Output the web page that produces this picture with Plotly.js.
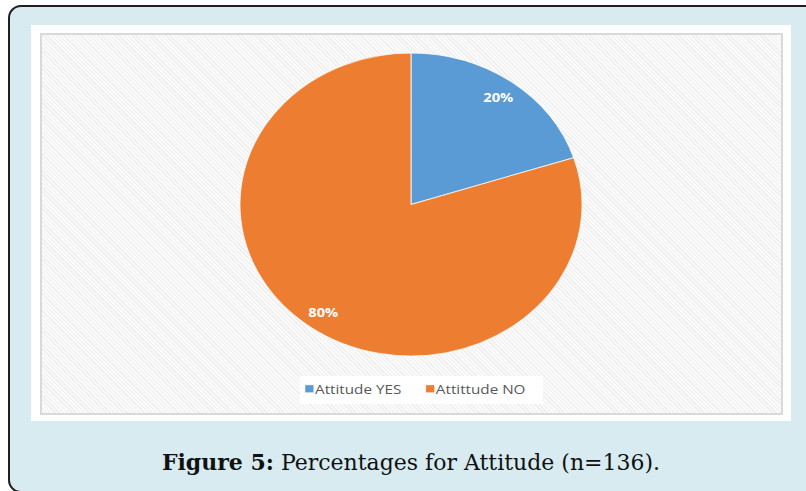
<!DOCTYPE html>
<html>
<head>
<meta charset="utf-8">
<script src="https://cdn.plot.ly/plotly-3.0.1.min.js"></script>
<style>
  html, body { margin: 0; padding: 0; width: 806px; height: 491px; overflow: hidden; background: #ffffff; }
  #frame { position: absolute; left: 8px; top: 5px; width: 830px; height: 484px;
           border: 2px solid #1f1f1f; border-radius: 13px; background: #d7ebf0; }
  #panel { position: absolute; left: 31px; top: 25px; width: 760px; height: 396px; background: #ffffff; }
  #area  { position: absolute; left: 40px; top: 33px; width: 739px; height: 378px;
           border: 2px solid #d9d9d9;
           background: repeating-linear-gradient(45deg, #eeeeee 0 1px, #fafafa 1px 3px); }
  /* the chart is drawn a little wider than tall, as in the printed figure */
  #chart { position: absolute; left: 0; top: 0; width: 806px; height: 491px;
           transform-origin: 411px 0; transform: scaleX(1.129); }
  #caption { position: absolute; left: 8px; top: 449px; width: 806px; text-align: center;
             font-family: "DejaVu Serif", serif; font-size: 22px; color: #111111; }
  /* small legend swatches sitting right next to their text; compact entries not clipped */
  #chart .legendpoints path { transform: translate(35px, 0px) scale(0.65); }
  #chart .legend .scrollbox { clip-path: none !important; }
</style>
</head>
<body>
<div id="frame"></div>
<div id="panel"></div>
<div id="area"></div>
<div id="chart"></div>
<div id="caption"><b>Figure 5:</b> Percentages for Attitude (n=136).</div>
<script>
  // Share of respondents by attitude (percent)
  const labels = ['Attitude YES', 'Attittude NO'];
  const shares = [20, 80];
  const colors = ['#5b9bd5', '#ed7d31'];

  const W = 806, H = 491;
  const pieCx = 411, pieTop = 53, pieBottom = 356;
  const pieR = (pieBottom - pieTop) / 2;
  const pieCy = (pieTop + pieBottom) / 2;
  const labelRadius = 0.875;   // percentage labels sit near the rim

  const trace = {
    type: 'pie',
    labels: labels,
    values: shares,
    sort: false,
    direction: 'clockwise',
    rotation: 0,
    marker: { colors: colors, line: { color: 'rgba(255,255,255,0.7)', width: 1 } },
    textinfo: 'none',
    hoverinfo: 'label+percent',
    domain: { x: [(pieCx - pieR) / W, (pieCx + pieR) / W], y: [1 - pieBottom / H, 1 - pieTop / H] }
  };

  // one label per slice, placed along the slice's middle angle (clockwise from 12 o'clock)
  const total = shares.reduce((a, b) => a + b, 0);
  let cum = 0;
  const annotations = shares.map(v => {
    const mid = (cum + v / 2) / total * 2 * Math.PI;
    cum += v;
    const px = pieCx + labelRadius * pieR * Math.sin(mid);
    const py = pieCy - labelRadius * pieR * Math.cos(mid);
    return {
      xref: 'paper', yref: 'paper', x: px / W, y: 1 - py / H,
      xanchor: 'center', yanchor: 'middle', showarrow: false,
      text: Math.round(v / total * 100) + '%',
      font: { family: 'Open Sans', size: 13, color: '#ffffff', weight: 'bold' }
    };
  });

  // white panel behind the legend
  const legendBox = { left: 312.5, right: 528, top: 376, bottom: 404 };

  const layout = {
    width: W, height: H,
    margin: { l: 0, r: 0, t: 0, b: 0 },
    paper_bgcolor: 'rgba(0,0,0,0)',
    plot_bgcolor: 'rgba(0,0,0,0)',
    showlegend: true,
    annotations: annotations,
    shapes: [{
      type: 'rect', xref: 'paper', yref: 'paper', layer: 'below',
      x0: legendBox.left / W, x1: legendBox.right / W,
      y0: 1 - legendBox.bottom / H, y1: 1 - legendBox.top / H,
      fillcolor: '#ffffff', line: { width: 0 }
    }],
    legend: {
      orientation: 'h', x: (pieCx - 18) / W, xanchor: 'center', y: 1 - 389 / H, yanchor: 'middle',
      bgcolor: 'rgba(0,0,0,0)', traceorder: 'normal', entrywidth: 62,
      font: { family: 'Open Sans', size: 13.5, color: '#595959' }
    }
  };

  Plotly.newPlot('chart', [trace], layout, { displayModeBar: false, staticPlot: true });
</script>
</body>
</html>
